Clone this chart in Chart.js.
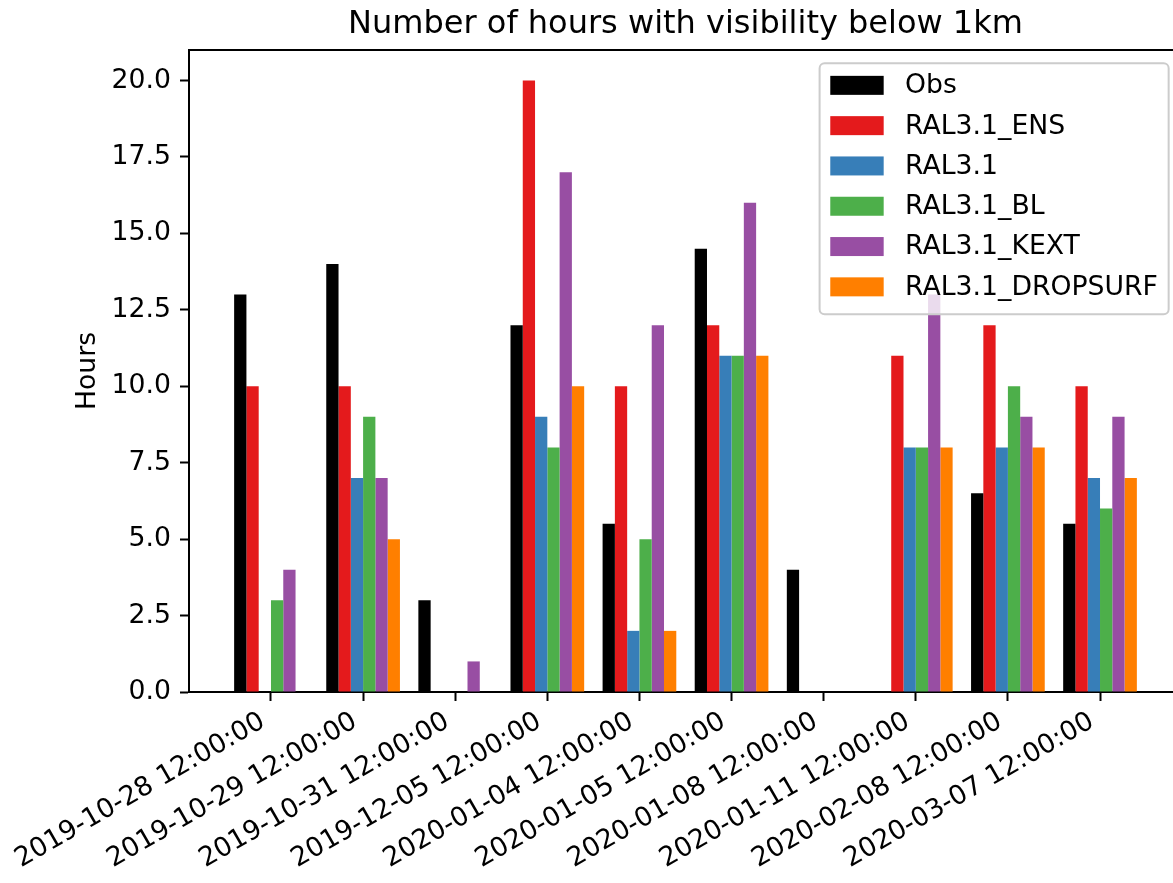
<!DOCTYPE html>
<html>
<head>
<meta charset="utf-8">
<script src="https://cdn.jsdelivr.net/npm/chart.js@4.4.1/dist/chart.umd.min.js"></script>
<style>
  html, body { margin: 0; padding: 0; background: #fff; overflow: hidden; }
  #wrap { position: relative; width: 1190px; height: 883px; }
</style>
</head>
<body>
<div id="wrap"><canvas id="visChart"></canvas></div>
<script>
// fog events and hours below 1km, per model run
const dates = [
    "2019-10-28 12:00:00", "2019-10-29 12:00:00", "2019-10-31 12:00:00",
    "2019-12-05 12:00:00", "2020-01-04 12:00:00", "2020-01-05 12:00:00",
    "2020-01-08 12:00:00", "2020-01-11 12:00:00", "2020-02-08 12:00:00",
    "2020-03-07 12:00:00"
];
const obs      = [13, 14, 3, 12, 5.5, 14.5, 4, 0, 6.5, 5.5];
const ens      = [10, 10, 0, 20, 10, 12, 0, 11, 12, 10];
const ral      = [0, 7, 0, 9, 2, 11, 0, 8, 8, 7];
const bl       = [3, 9, 0, 8, 5, 11, 0, 8, 10, 6];
const kext     = [4, 7, 1, 17, 12, 16, 0, 13, 9, 9];
const dropsurf = [0, 5, 0, 10, 2, 11, 0, 8, 8, 7];

const seriesNames  = ["Obs", "RAL3.1_ENS", "RAL3.1", "RAL3.1_BL", "RAL3.1_KEXT", "RAL3.1_DROPSURF"];
const seriesValues = [obs, ens, ral, bl, kext, dropsurf];
const seriesColors = ["#000000", "#e41a1c", "#377eb8", "#4daf4a", "#984ea3", "#ff7f00"];

const yMax = 21;
const yStep = 2.5;
// bars span -0.4 .. 9.4, plus 5% margin each side
const xMin = -0.89;
const xMax = 9.89;

const FS = 26.7;      // tick / legend / label size
const TITLE_FS = 32;

Chart.defaults.font.family = "'DejaVu Sans', sans-serif";
Chart.defaults.color = "#000";

// put the title over the plot area instead of the whole canvas
const centerTitle = {
    id: "centerTitle",
    afterLayout(chart) {
        const t = chart.titleBlock;
        if (t) {
            t.left = chart.chartArea.left;
            t.right = chart.chartArea.right;
        }
    }
};

// top/right frame lines
const frame = {
    id: "frame",
    afterDatasetsDraw(chart) {
        const { ctx, chartArea: a } = chart;
        ctx.save();
        ctx.strokeStyle = "#000";
        ctx.lineWidth = 2;
        ctx.beginPath();
        ctx.moveTo(a.left, a.top);
        ctx.lineTo(a.right, a.top);
        ctx.lineTo(a.right, a.bottom);
        ctx.stroke();
        ctx.restore();
    }
};

// boxed legend in the upper right corner of the plot
const boxLegend = {
    id: "boxLegend",
    afterDraw(chart) {
        const { ctx, chartArea: a } = chart;
        const fs = FS;
        const sets = chart.data.datasets;
        ctx.save();
        ctx.font = fs + "px 'DejaVu Sans'";
        const textW = Math.max(...sets.map(d => ctx.measureText(d.label).width));
        const pad = 0.4 * fs, handle = 2 * fs, gap = 0.8 * fs, row = 40.3;
        const w = pad + handle + gap + textW + pad;
        const h = 21.5 + row * (sets.length - 1) + 28;
        const right = a.right - 0.5 * fs, top = a.top + 0.5 * fs, left = right - w;

        ctx.beginPath();
        ctx.roundRect(left, top, w, h, 5);
        ctx.fillStyle = "rgba(255,255,255,0.8)";
        ctx.fill();
        ctx.strokeStyle = "#cccccc";
        ctx.lineWidth = 2;
        ctx.stroke();

        ctx.textBaseline = "middle";
        ctx.textAlign = "left";
        sets.forEach((d, i) => {
            const cy = top + 22 + i * row;
            ctx.fillStyle = d.backgroundColor;
            ctx.fillRect(left + pad, cy - 9.5, handle, 19);
            ctx.fillStyle = "#000";
            ctx.fillText(d.label, left + pad + handle + gap, cy + 1);
        });
        ctx.restore();
    }
};

const ctx = document.getElementById("visChart").getContext("2d");
new Chart(ctx, {
    type: "bar",
    data: {
        datasets: seriesNames.map((name, k) => ({
            label: name,
            data: seriesValues[k].map((v, i) => ({ x: i, y: v })),
            backgroundColor: seriesColors[k],
            borderWidth: 0,
            barPercentage: 1.0,
            categoryPercentage: 0.8
        }))
    },
    options: {
        responsive: true,
        maintainAspectRatio: false,
        animation: false,
        layout: { padding: { left: 0, right: 8, top: 0, bottom: 0 } },
        plugins: {
            legend: { display: false },
            tooltip: { enabled: false },
            title: {
                display: true,
                text: "Number of hours with visibility below 1km",
                color: "#000",
                font: { size: TITLE_FS, weight: "normal" },
                padding: { top: 5, bottom: 6.6 }
            }
        },
        scales: {
            x: {
                type: "linear",
                min: xMin,
                max: xMax,
                offset: false,
                afterBuildTicks(axis) { axis.ticks = dates.map((d, i) => ({ value: i })); },
                afterFit(axis) { axis.height = 191; },
                border: { color: "#000", width: 2 },
                grid: { offset: false, drawOnChartArea: false, tickLength: 9, tickColor: "#000", tickWidth: 2 },
                ticks: {
                    autoSkip: false, minRotation: 30, maxRotation: 30, padding: 5, labelOffset: -8,
                    color: "#000", font: { size: FS },
                    callback: v => dates[v]
                }
            },
            y: {
                min: 0,
                max: yMax,
                afterFit(axis) { axis.width = 189; },
                border: { color: "#000", width: 2 },
                grid: { drawOnChartArea: false, tickLength: 9, tickColor: "#000", tickWidth: 2 },
                ticks: {
                    stepSize: yStep, includeBounds: false, padding: 9,
                    color: "#000", font: { size: FS },
                    callback: v => v.toFixed(1)
                },
                title: {
                    display: true, text: "Hours", color: "#000",
                    font: { size: FS }, padding: { top: 72, bottom: 0 }
                }
            }
        }
    },
    plugins: [centerTitle, frame, boxLegend]
});
</script>
</body>
</html>
